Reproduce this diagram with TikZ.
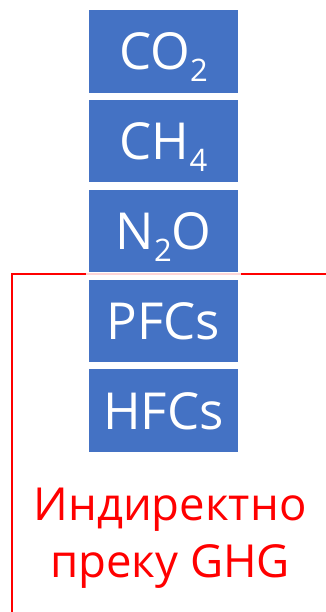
\documentclass[tikz,border=0pt]{standalone}
\usepackage{fontspec}
\setmainfont{Open Sans}
\definecolor{boxblue}{HTML}{4472C4}
\definecolor{pinkline}{HTML}{FFD6D6}
\newcommand\mysub[1]{\raisebox{-12pt}{\fontsize{31}{31}\selectfont #1}}
\begin{document}
\begin{tikzpicture}[x=1pt,y=-1pt,
  gasbox/.style={fill=boxblue, draw=none, minimum width=148.4pt, minimum height=82.5pt,
    inner sep=0pt, text=white, font=\fontsize{51}{51}\selectfont, text height=37pt, text depth=0pt},
  redline/.style={draw=red, line width=2pt},
  redtext/.style={text=red, font=\fontsize{45.5}{57}\selectfont, align=center, inner sep=0pt}]
\useasboundingbox (0,0) rectangle (326,612);
% faint line behind the gap
\coordinate (gl) at (86,273.7);
\coordinate (gr) at (241,273.7);
\draw[pinkline, line width=2pt] (gl) -- (gr);
\node[gasbox] (b1) at (163.5,51.5) {CO\mysub{2}};
\node[gasbox] (b2) at (163.5,141.25) {CH\mysub{4}};
\node[gasbox] (b3) at (163.5,231) {N\mysub{2}O};
\node[gasbox] (b4) at (163.5,320.75) {PFCs};
\node[gasbox] (b5) at (163.5,410.5) {HFCs};
\coordinate (lc) at (12,273.7);
\coordinate (lb) at (12,612);
\coordinate (re) at (326,273.7);
\draw[redline, line join=miter] (lb) -- (lc) -- (gl);
\draw[redline] (gr) -- (re);
\node[redtext, anchor=base] (t1) at (170,520) {Индиректно};
\node[redtext, anchor=base] (t2) at (170,577) {преку GHG};
\end{tikzpicture}
\end{document}
